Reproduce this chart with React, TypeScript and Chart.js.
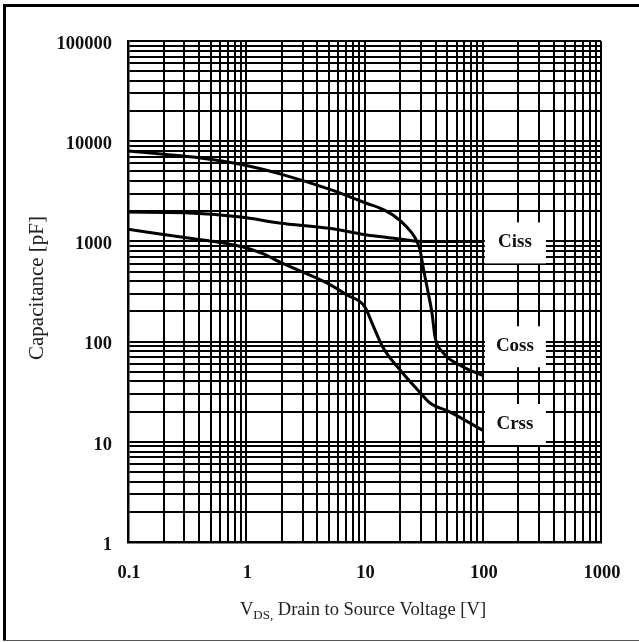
import { useEffect, useRef } from 'react';
import { Chart, registerables } from 'chart.js';

Chart.register(...registerables);

// ---- data ----
const cissV = [0.1, 0.3, 0.9, 1.9, 5, 10.5, 16, 22, 28, 40, 100];
const cissC = [1960, 1930, 1750, 1530, 1350, 1160, 1090, 1040, 1005, 1000, 1000];

const cossV = [0.1, 0.2, 0.41, 1, 2, 5.4, 10.5, 13.5, 17.4, 22.8, 26.6, 29.5, 31.3, 33.8, 37.2, 39.5, 46, 68, 100];
const cossC = [8000, 7400, 6800, 5730, 4670, 3230, 2390, 2150, 1830, 1390, 1100, 820, 555, 350, 193, 111, 78, 56, 46];

const crssV = [0.1, 0.29, 0.94, 1.4, 1.93, 4.8, 7.1, 10, 11.8, 14.3, 20, 29.5, 35.8, 53, 100];
const crssC = [1320, 1100, 880, 750, 620, 385, 292, 225, 145, 88, 52, 31, 24.4, 19.8, 13];

const seriesNames = ['Ciss', 'Coss', 'Crss'];
const labelAtV = [187, 187, 187];
const labelAtC = [1000, 92, 15.4];

const xTickValues = [0.1, 1, 10, 100, 1000];
const xTickLabels = ['0.1', '1', '10', '100', '1000'];
const yTickValues = [1, 10, 100, 1000, 10000, 100000];
const yTickLabels = ['1', '10', '100', '1000', '10000', '100000'];
const minorSteps = [1, 2, 3, 4, 5, 6, 7, 8, 9];

const yTitle = 'Capacitance [pF]';
const xTitleMain = 'V';
const xTitleSub = 'DS,';
const xTitleRest = ' Drain to Source Voltage [V]';

function gridTicks(min: number, max: number) {
  const out: { value: number }[] = [];
  for (let d = min; d < max * 0.999; d *= 10) {
    for (const s of minorSteps) out.push({ value: +(d * s).toPrecision(6) });
  }
  out.push({ value: max });
  return out;
}

const SERIF = '"Liberation Serif", "Times New Roman", serif';

const overlay = {
  id: 'overlay',
  afterDatasetsDraw(chart: any) {
    const ctx = chart.ctx as CanvasRenderingContext2D;
    const xs = chart.scales.x;
    const ys = chart.scales.y;
    ctx.save();
    for (let i = 0; i < seriesNames.length; i++) {
      const px = xs.getPixelForValue(labelAtV[i]);
      const py = ys.getPixelForValue(labelAtC[i]);
      ctx.fillStyle = '#fff';
      ctx.fillRect(px - 30, py - 19, 61, 41);
      ctx.fillStyle = '#111';
      ctx.font = `bold 19px ${SERIF}`;
      ctx.textAlign = 'center';
      ctx.textBaseline = 'middle';
      ctx.fillText(seriesNames[i], px, py + 1);
    }
    ctx.restore();
  },
  afterDraw(chart: any) {
    const ctx = chart.ctx as CanvasRenderingContext2D;
    const xs = chart.scales.x;
    const ys = chart.scales.y;
    ctx.save();
    // outer frame
    ctx.fillStyle = '#000';
    ctx.fillRect(3, 4, 3, 636);
    ctx.fillRect(3, 4, 636, 3);
    ctx.fillStyle = '#555';
    ctx.fillRect(3, 640, 636, 1);

    ctx.fillStyle = '#111';
    ctx.font = `bold 18.5px ${SERIF}`;
    ctx.textBaseline = 'middle';
    ctx.textAlign = 'right';
    yTickValues.forEach((v, i) => {
      ctx.fillText(yTickLabels[i], 112, ys.getPixelForValue(v) + 3);
    });
    ctx.textAlign = 'center';
    xTickValues.forEach((v, i) => {
      ctx.fillText(xTickLabels[i], xs.getPixelForValue(v) + 1, 573);
    });

    // y title
    ctx.font = `21px ${SERIF}`;
    ctx.fillStyle = '#222';
    ctx.save();
    ctx.translate(37, 288);
    ctx.rotate(-Math.PI / 2);
    ctx.textAlign = 'center';
    ctx.textBaseline = 'middle';
    ctx.fillText(yTitle, 0, 0);
    ctx.restore();

    // x title with subscript
    const bigF = `18.5px ${SERIF}`;
    const subF = `13px ${SERIF}`;
    ctx.font = bigF;
    const w1 = ctx.measureText(xTitleMain).width;
    const w3 = ctx.measureText(xTitleRest).width;
    ctx.font = subF;
    const w2 = ctx.measureText(xTitleSub).width;
    const total = w1 + w2 + w3;
    let x0 = 363 - total / 2;
    const base = 615;
    ctx.textAlign = 'left';
    ctx.textBaseline = 'alphabetic';
    ctx.font = bigF;
    ctx.fillText(xTitleMain, x0, base);
    x0 += w1;
    ctx.font = subF;
    ctx.fillText(xTitleSub, x0, base + 4);
    x0 += w2;
    ctx.font = bigF;
    ctx.fillText(xTitleRest, x0, base);
    ctx.restore();
  },
};

export default function App() {
  const ref = useRef<HTMLCanvasElement | null>(null);
  useEffect(() => {
    if (!ref.current) return;
    const mk = (vs: number[], cs: number[]) => vs.map((v, i) => ({ x: v, y: cs[i] }));
    const lineStyle = {
      borderColor: '#000',
      borderWidth: 3,
      pointRadius: 0,
      fill: false,
      cubicInterpolationMode: 'monotone' as const,
    };
    const gridLine = {
      color: '#000',
      lineWidth: 2,
      drawTicks: false,
      tickLength: 0,
    };
    const chart = new Chart(ref.current, {
      type: 'line',
      data: {
        datasets: [
          { label: seriesNames[0], data: mk(cissV, cissC), ...lineStyle },
          { label: seriesNames[1], data: mk(cossV, cossC), ...lineStyle },
          { label: seriesNames[2], data: mk(crssV, crssC), ...lineStyle },
        ],
      },
      options: {
        animation: false,
        responsive: false,
        devicePixelRatio: 1,
        layout: { padding: { left: 128, right: 38, top: 41, bottom: 100 } },
        plugins: { legend: { display: false }, tooltip: { enabled: false } },
        scales: {
          x: {
            type: 'logarithmic',
            min: 0.1,
            max: 1000,
            afterBuildTicks: (s: any) => { s.ticks = gridTicks(0.1, 1000); },
            ticks: { display: false, autoSkip: false },
            grid: gridLine,
            border: { display: true, color: '#000', width: 2.5 },
          },
          y: {
            type: 'logarithmic',
            min: 1,
            max: 100000,
            afterBuildTicks: (s: any) => { s.ticks = gridTicks(1, 100000); },
            ticks: { display: false, autoSkip: false },
            grid: gridLine,
            border: { display: true, color: '#000', width: 2.5 },
          },
        },
      },
      plugins: [overlay],
    });
    return () => chart.destroy();
  }, []);
  return (
    <div style={{ position: 'fixed', left: 0, top: 0, width: 639, height: 642, background: '#fff' }}>
      <canvas ref={ref} width={639} height={642} style={{ display: 'block' }} />
    </div>
  );
}
